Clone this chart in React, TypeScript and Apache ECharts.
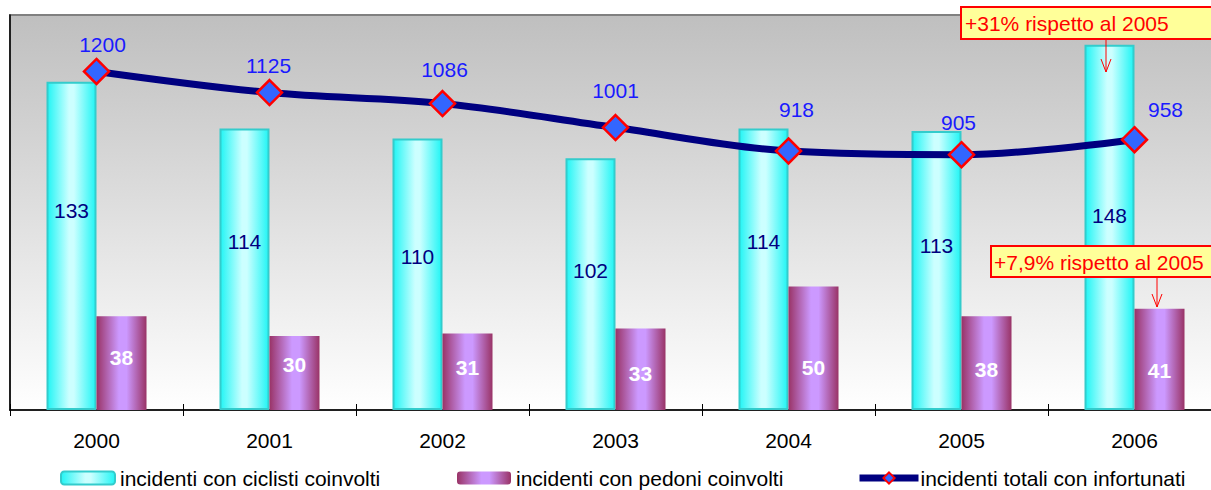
import React, { useEffect, useRef } from "react";
import * as echarts from "echarts";

const years = ["2000", "2001", "2002", "2003", "2004", "2005", "2006"];
const ciclisti = [133, 114, 110, 102, 114, 113, 148];
const pedoni = [38, 30, 31, 33, 50, 38, 41];
const totali = [1200, 1125, 1086, 1001, 918, 905, 958];
const legendNames = [
  "incidenti con ciclisti coinvolti",
  "incidenti con pedoni coinvolti",
  "incidenti totali con infortunati",
];
const callout1 = "+31% rispetto al 2005";
const callout2 = "+7,9% rispetto al 2005";

const FONT = "'Liberation Sans', Arial, sans-serif";

// label nudges (styling only, in pixels)
const cicLabelDy = [-35, -28, -18, -14, -28, -25, -12];
const pedLabelDy = [-6, -8, -4, 4, 19, 6, 11];
const totLabelOffset = [
  [6, -3],
  [-1, -3],
  [2, -10],
  [0, -13],
  [8, -17],
  [-3, -8],
  [31, -6],
];

export default function App() {
  const ref = useRef<HTMLDivElement>(null);
  useEffect(() => {
    if (!ref.current) return;
    const chart = echarts.init(ref.current, null, { renderer: "svg" });
    const cyanGrad = new echarts.graphic.LinearGradient(0, 0, 1, 0, [
      { offset: 0, color: "#22F5F5" },
      { offset: 0.45, color: "#CCFFFF" },
      { offset: 0.55, color: "#CCFFFF" },
      { offset: 1, color: "#22F5F5" },
    ]);
    const purpleGrad = new echarts.graphic.LinearGradient(0, 0, 1, 0, [
      { offset: 0, color: "#993366" },
      { offset: 0.45, color: "#CC99FF" },
      { offset: 0.6, color: "#CC99FF" },
      { offset: 1, color: "#993366" },
    ]);
    const legendText = {
      fontSize: 21,
      lineHeight: 22,
      color: "#000",
      fontFamily: FONT,
    };
    const option: any = {
      animation: false,
      textStyle: { fontFamily: FONT },
      grid: {
        left: 10,
        top: 15,
        width: 1211,
        height: 395,
        show: true,
        borderColor: "#808080",
        borderWidth: 2,
        backgroundColor: new echarts.graphic.LinearGradient(0, 0, 0, 1, [
          { offset: 0, color: "#BFBFBF" },
          { offset: 1, color: "#FFFFFF" },
        ]),
      },
      xAxis: [
        {
          type: "category",
          data: years,
          axisLine: { lineStyle: { color: "#000", width: 1.5 } },
          axisTick: { show: true, length: 6, lineStyle: { color: "#000" } },
          axisLabel: { color: "#000", fontSize: 21, margin: 20, fontFamily: FONT },
          splitLine: { show: false },
        },
        {
          type: "category",
          data: years,
          position: "bottom",
          axisLine: { show: false },
          axisTick: { show: true, inside: true, length: 6, lineStyle: { color: "#000" } },
          axisLabel: { show: false },
          splitLine: { show: false },
        },
      ],
      yAxis: [
        {
          type: "value",
          min: 0,
          max: 160,
          axisLine: { show: true, lineStyle: { color: "#000", width: 1.5 } },
          axisTick: { show: false },
          axisLabel: { show: false },
          splitLine: { show: false },
        },
        {
          type: "value",
          min: 0,
          max: 1400,
          show: false,
          splitLine: { show: false },
        },
      ],
      legend: [
        {
          data: [legendNames[0]],
          left: 60,
          top: 467,
          padding: 0,
          itemWidth: 54,
          itemHeight: 13,
          textStyle: legendText,
        },
        {
          data: [legendNames[1]],
          left: 457,
          top: 467,
          padding: 0,
          itemWidth: 54,
          itemHeight: 13,
          textStyle: legendText,
        },
        {
          data: [legendNames[2]],
          left: 856,
          top: 467,
          padding: 0,
          itemWidth: 59,
          itemHeight: 14,
          lineStyle: { width: 7 },
          textStyle: { ...legendText, padding: [0, 0, 0, -3] },
        },
      ],
      series: [
        {
          name: legendNames[0],
          type: "bar",
          data: ciclisti.map((v, i) => ({
            value: v,
            label: { offset: [0, cicLabelDy[i]] },
          })),
          barWidth: 50,
          barGap: "0%",
          itemStyle: { color: cyanGrad, borderColor: "#33CCCC", borderWidth: 2 },
          label: {
            show: true,
            position: "inside",
            color: "#000080",
            fontSize: 21,
            fontFamily: FONT,
          },
          z: 2,
        },
        {
          name: legendNames[1],
          type: "bar",
          data: pedoni.map((v, i) => ({
            value: v,
            label: { offset: [0, pedLabelDy[i]] },
          })),
          barWidth: 50,
          barGap: "0%",
          itemStyle: { color: purpleGrad },
          label: {
            show: true,
            position: "inside",
            color: "#FFFFFF",
            fontWeight: "bold",
            fontSize: 21,
            fontFamily: FONT,
          },
          z: 2,
        },
        {
          name: legendNames[2],
          type: "line",
          yAxisIndex: 1,
          data: totali.map((v, i) => ({
            value: v,
            label: { offset: totLabelOffset[i] },
          })),
          smooth: 0.35,
          symbol: "diamond",
          symbolSize: 25,
          lineStyle: { color: "#000080", width: 7 },
          itemStyle: { color: "#3366FF", borderColor: "#FF0000", borderWidth: 2.5 },
          label: {
            show: true,
            position: "top",
            distance: 0,
            color: "#1A1AFF",
            fontSize: 21,
            fontFamily: FONT,
          },
          z: 5,
        },
      ],
      graphic: [
        {
          type: "line",
          shape: { x1: 1106, y1: 39, x2: 1106, y2: 72 },
          style: { stroke: "#FF0000", lineWidth: 1 },
          z: 100,
        },
        {
          type: "polyline",
          shape: { points: [[1101, 59], [1106, 72], [1111, 59]] },
          style: { stroke: "#FF0000", lineWidth: 1, fill: null },
          z: 100,
        },
        {
          type: "rect",
          shape: { x: 961, y: 7, width: 260, height: 32 },
          style: { fill: "#FFFF99", stroke: "#FF0000", lineWidth: 2 },
          z: 100,
        },
        {
          type: "text",
          x: 965,
          y: 23,
          style: {
            text: callout1,
            fill: "#FF0000",
            font: `21px ${FONT}`,
            verticalAlign: "middle",
          },
          z: 101,
        },
        {
          type: "line",
          shape: { x1: 1157, y1: 277, x2: 1157, y2: 307 },
          style: { stroke: "#FF0000", lineWidth: 1 },
          z: 100,
        },
        {
          type: "polyline",
          shape: { points: [[1152, 294], [1157, 307], [1162, 294]] },
          style: { stroke: "#FF0000", lineWidth: 1, fill: null },
          z: 100,
        },
        {
          type: "rect",
          shape: { x: 991, y: 246, width: 230, height: 31 },
          style: { fill: "#FFFF99", stroke: "#FF0000", lineWidth: 2 },
          z: 100,
        },
        {
          type: "text",
          x: 994,
          y: 262,
          style: {
            text: callout2,
            fill: "#FF0000",
            font: `21px ${FONT}`,
            verticalAlign: "middle",
          },
          z: 101,
        },
      ],
    };
    chart.setOption(option);
    return () => chart.dispose();
  }, []);
  return (
    <div style={{ position: "fixed", left: 0, top: 0, width: 1211, height: 490, overflow: "hidden", background: "#fff" }}>
      <div ref={ref} style={{ width: 1230, height: 490 }} />
    </div>
  );
}
